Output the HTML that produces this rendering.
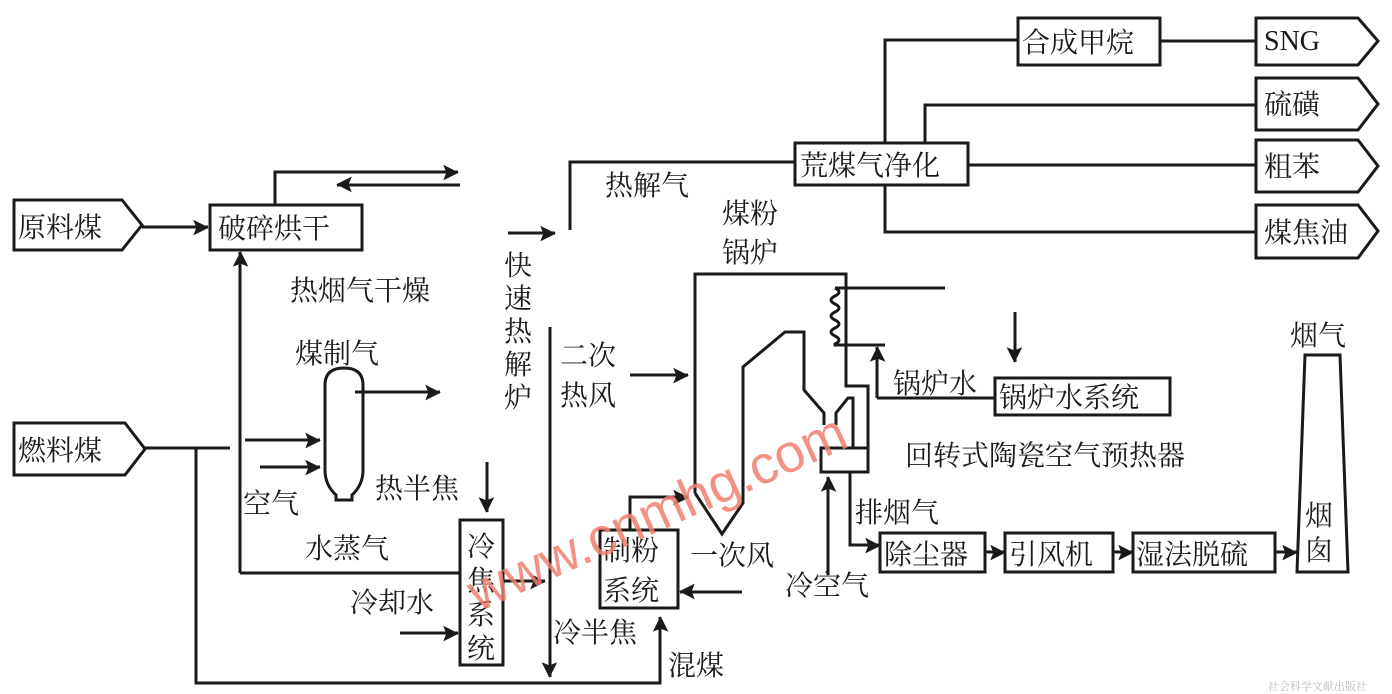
<!DOCTYPE html>
<html><head><meta charset="utf-8"><style>
html,body{margin:0;padding:0;background:#fff;}
svg{display:block}
text{font-family:"Liberation Serif","Noto Serif CJK SC","Noto Sans CJK SC",serif;font-size:28px;fill:#1a1a1a;}
</style></head><body>
<svg width="1392" height="694" viewBox="0 0 1392 694" xmlns="http://www.w3.org/2000/svg">
<defs>
<marker id="a" viewBox="0 0 10 10" refX="9" refY="5" markerWidth="6" markerHeight="6" orient="auto-start-reverse" markerUnits="userSpaceOnUse" style="overflow:visible">
<path d="M0,0 L10,5 L0,10 L2,5 z" fill="#1a1a1a" transform="scale(2.6) translate(-6,-2.7)"/>
</marker>
</defs>
<g fill="none" stroke="#1a1a1a" stroke-width="3">
<path d="M14,200 H122 L142,225 L122,250 H14 Z"/>
<path d="M14,423 H125 L145,449 L125,475 H14 Z"/>
<path d="M1256,18 H1358 L1378,41 L1358,65 H1256 Z"/>
<path d="M1256,78 H1358 L1378,104 L1358,130 H1256 Z"/>
<path d="M1256,140 H1358 L1378,166 L1358,192 H1256 Z"/>
<path d="M1256,205 H1358 L1378,231 L1358,258 H1256 Z"/>
<rect x="210" y="205" width="152" height="45"/>
<rect x="795" y="143" width="173" height="42"/>
<rect x="1018" y="18" width="142" height="47"/>
<rect x="460" y="520" width="43" height="145"/>
<rect x="600" y="530" width="78" height="78"/>
<rect x="995" y="378" width="175" height="37"/>
<rect x="880" y="533" width="105" height="39"/>
<rect x="1005" y="533" width="108" height="39"/>
<rect x="1133" y="533" width="142" height="39"/>
<path d="M1305,355 H1340 L1348,572 H1297 Z"/>
<path d="M142,227 H208" marker-end="url(#a)"/>
<path d="M275,205 V172 H458" marker-end="url(#a)"/>
<path d="M460,185 H337" marker-end="url(#a)"/>
<path d="M240,573 V252" marker-end="url(#a)"/>
<path d="M240,573 H460"/>
<path d="M145,448 H230"/>
<path d="M196,448 V683 H660 V617" marker-end="url(#a)"/>
<path d="M355,392 H440" marker-end="url(#a)"/>
<path d="M245,440 H320" marker-end="url(#a)"/>
<path d="M260,467 H320" marker-end="url(#a)"/>
<path d="M487,462 V512" marker-end="url(#a)"/>
<path d="M400,633 H458" marker-end="url(#a)"/>
<path d="M503,581 H545" marker-end="url(#a)"/>
<path d="M550,327 V677" marker-end="url(#a)"/>
<path d="M508,233 H555" marker-end="url(#a)"/>
<path d="M570,230 V162 H795"/>
<path d="M885,143 V40 H1018"/>
<path d="M1160,41 H1256"/>
<path d="M925,143 V105 H1256"/>
<path d="M968,165 H1256"/>
<path d="M885,185 V232 H1256"/>
<path d="M630,375 H688" marker-end="url(#a)"/>
<path d="M630,530 V497 H688" marker-end="url(#a)"/>
<path d="M742,592 H680" marker-end="url(#a)"/>
<path d="M695,493 V274 H846 V386 H868 V472 H851"/>
<path d="M695,493 L722,534 L743,503 V367 L785,332 H804 V390 L824,413 V425"/>
<path d="M836,425 V413 L848,398 H853 V448"/>
<rect x="821" y="448" width="47" height="24"/>
<path d="M835,288 H945"/>
<path d="M835,288 q8,4 0,8 q-8,4 0,8 q8,4 0,8 q-8,4 0,8 q8,4 0,8 q-8,4 0,8 q8,4 0,8 V345 H885"/>
<path d="M877,398 V347" marker-end="url(#a)"/>
<path d="M877,398 H995"/>
<path d="M1015,312 V362" marker-end="url(#a)"/>
<path d="M828,575 V477" marker-end="url(#a)"/>
<path d="M850,472 V545 H880" marker-end="url(#a)"/>
<path d="M985,552 H1005" marker-end="url(#a)"/>
<path d="M1113,552 H1133" marker-end="url(#a)"/>
<path d="M1275,552 H1297" marker-end="url(#a)"/>
<path d="M325,385 Q325,368 344,368 Q363,368 363,385 V470 Q363,485 352,495 V500 H336 V495 Q325,485 325,470 Z"/>
</g>
<g>
<text x="18" y="237">原料煤</text>
<text x="218" y="238">破碎烘干</text>
<text x="18" y="460">燃料煤</text>
<text x="290" y="300">热烟气干燥</text>
<text x="295" y="363">煤制气</text>
<text x="243" y="513">空气</text>
<text x="375" y="498">热半焦</text>
<text x="305" y="558">水蒸气</text>
<text x="350" y="612">冷却水</text>
<text x="605" y="195">热解气</text>
<text x="800" y="175">荒煤气净化</text>
<text x="1022" y="52">合成甲烷</text>
<text x="1264" y="50">SNG</text>
<text x="1264" y="114">硫磺</text>
<text x="1264" y="176">粗苯</text>
<text x="1264" y="242">煤焦油</text>
<text x="722" y="223">煤粉</text>
<text x="722" y="262">锅炉</text>
<text x="560" y="365">二次</text>
<text x="560" y="405">热风</text>
<text x="893" y="393">锅炉水</text>
<text x="999" y="407">锅炉水系统</text>
<text x="905" y="465">回转式陶瓷空气预热器</text>
<text x="855" y="522">排烟气</text>
<text x="884" y="564">除尘器</text>
<text x="1009" y="564">引风机</text>
<text x="1136" y="564">湿法脱硫</text>
<text x="1290" y="345">烟气</text>
<text x="1305" y="525">烟</text>
<text x="1305" y="560">囱</text>
<text x="603" y="560">制粉</text>
<text x="603" y="600">系统</text>
<text x="690" y="565">一次风</text>
<text x="785" y="595">冷空气</text>
<text x="553" y="642">冷半焦</text>
<text x="668" y="675">混煤</text>
<text x="504" y="275">快</text>
<text x="504" y="308">速</text>
<text x="504" y="341">热</text>
<text x="504" y="374">解</text>
<text x="504" y="407">炉</text>
<text x="467" y="556">冷</text>
<text x="467" y="590">焦</text>
<text x="467" y="624">系</text>
<text x="467" y="658">统</text>
<text x="1268" y="690" style="font-size:11px;fill:#bbb">社会科学文献出版社</text>
<text x="0" y="0" transform="translate(478,612) rotate(-24)" style="font-family:'Liberation Sans',sans-serif;font-size:54px;fill:#f08070;opacity:0.85">www.cnmhg.com</text>
</g>
</svg>
</body></html>
